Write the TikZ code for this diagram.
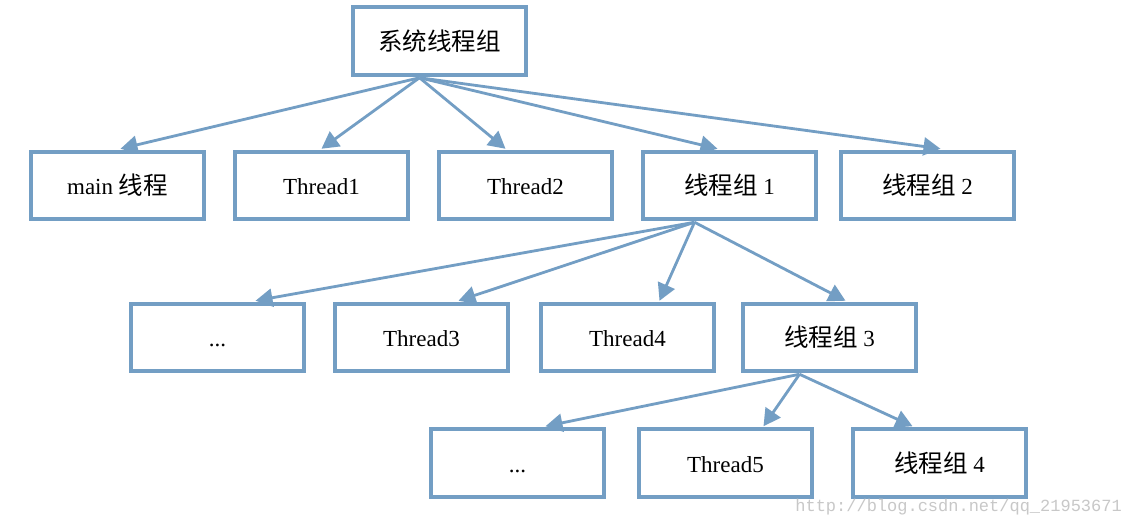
\documentclass[tikz,border=0pt]{standalone}
\usepackage{fontspec}
\setmainfont{Liberation Serif}
\newfontfamily\cjk{Noto Sans CJK SC}
\newfontfamily\wmfont{Liberation Mono}
\usetikzlibrary{arrows.meta,calc}
\definecolor{boxblue}{RGB}{115,158,196}
\definecolor{wmgray}{RGB}{200,200,200}
\begin{document}
\begin{tikzpicture}[x=1pt,y=-1pt,
  box/.style={draw=boxblue,line width=4pt,minimum width=173.5pt,minimum height=67.5pt,inner sep=0pt,
    text height=19pt,text depth=1pt,
    font=\fontsize{23}{26}\selectfont},
  arr/.style={draw=boxblue,line width=2.8pt,-{Triangle[length=17pt,width=18pt]}}]
\useasboundingbox[fill=white] (0,0) rectangle (1133,525);
\newcommand{\zh}[1]{{\cjk\fontsize{24.5}{27}\selectfont #1}}
% nodes
\node[box] (root) at (439.5,41) {\zh{系统线程组}};
\node[box] (main) at (117.5,185.5) {main \zh{线程}};
\node[box] (t1) at (321.5,185.5) {Thread1};
\node[box] (t2) at (525.5,185.5) {Thread2};
\node[box] (g1) at (729.5,185.5) {\zh{线程组} 1};
\node[box] (g2) at (927.5,185.5) {\zh{线程组} 2};
\node[box] (d1) at (217.5,337.5) {...};
\node[box] (t3) at (421.5,337.5) {Thread3};
\node[box] (t4) at (627.5,337.5) {Thread4};
\node[box] (g3) at (829.5,337.5) {\zh{线程组} 3};
\node[box] (d2) at (517.5,463) {...};
\node[box] (t5) at (725.5,463) {Thread5};
\node[box] (g4) at (939.5,463) {\zh{线程组} 4};
% start points
\coordinate (s0) at ($(root.south)+(-20,1)$);
\coordinate (s1) at ($(g1.south)+(-35,1)$);
\coordinate (s3) at ($(g3.south)+(-30,1)$);
% arrows
\draw[arr] (s0) -- ($(main.north)+(3,-1)$);
\draw[arr] (s0) -- ($(t1.north)+(0,-1)$);
\draw[arr] (s0) -- ($(t2.north)+(-20,-1)$);
\draw[arr] (s0) -- ($(g1.north)+(-12,-1)$);
\draw[arr] (s0) -- ($(g2.north)+(13,-1)$);
\draw[arr] (s1) -- ($(d1.north)+(38,-1)$);
\draw[arr] (s1) -- ($(t3.north)+(37,-1)$);
\draw[arr] (s1) -- ($(t4.north)+(32,-1)$);
\draw[arr] (s1) -- ($(g3.north)+(16,-1)$);
\draw[arr] (s3) -- ($(d2.north)+(28,-1)$);
\draw[arr] (s3) -- ($(t5.north)+(38,-1)$);
\draw[arr] (s3) -- ($(g4.north)+(-27,-1)$);
% watermark
\node[text=wmgray,font=\wmfont\fontsize{17}{19}\selectfont,anchor=east,inner sep=0pt] (wm) at (1122,507) {http://blog.csdn.net/qq\_21953671};
\end{tikzpicture}
\end{document}
